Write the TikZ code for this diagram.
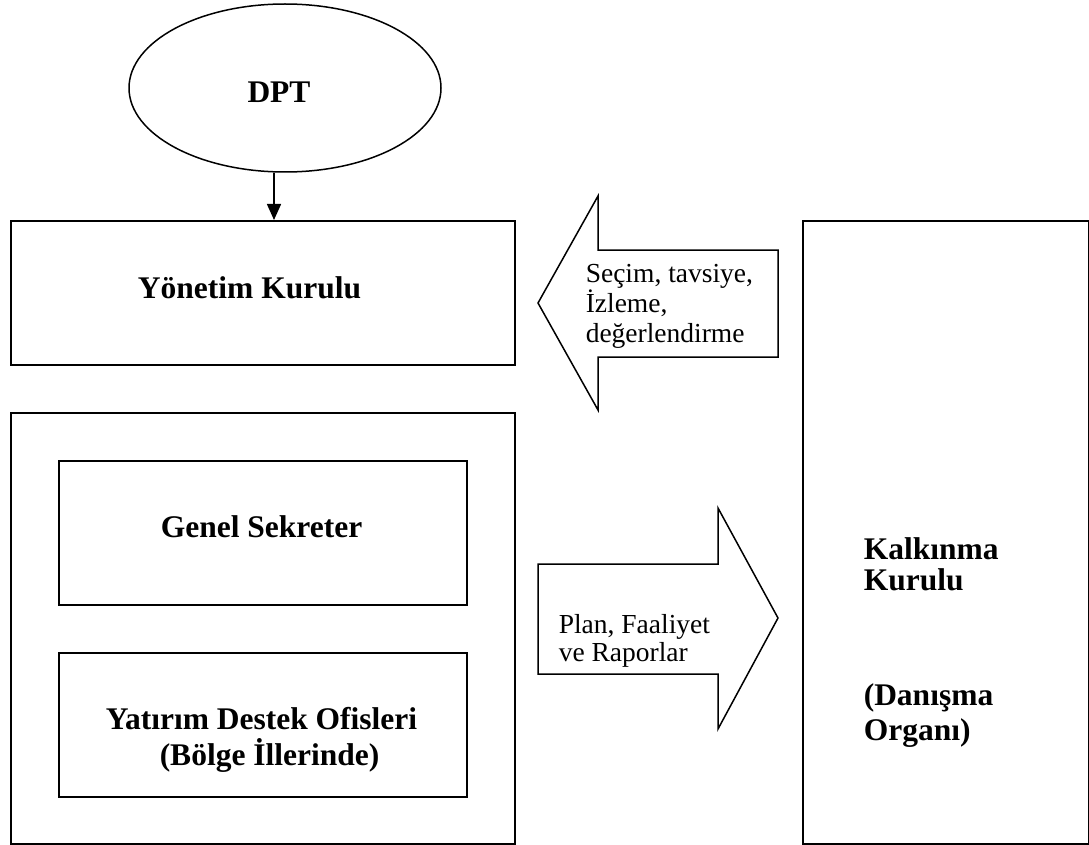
\documentclass[tikz,border=0pt]{standalone}
\usepackage{fontspec}
\setmainfont{Liberation Serif}
\usetikzlibrary{arrows.meta}
\begin{document}
\begin{tikzpicture}[x=1pt,y=-1pt,
  line width=1.5pt,
  box/.style={draw,rectangle,inner sep=0pt,anchor=north west},
  bold/.style={inner sep=0pt,font=\fontsize{31.5}{36}\selectfont\bfseries},
  reg/.style={inner sep=0pt,font=\fontsize{27.5}{30}\selectfont},
  conn/.style={-{Triangle[width=14pt,length=16pt]}},
  bigarrow/.style={draw,line join=miter}]
\useasboundingbox (0,0) rectangle (1089,845);
% DPT ellipse
\draw (285,88) ellipse [x radius=156, y radius=84];
\node[draw=none,inner sep=0pt,minimum width=312pt,minimum height=168pt] (dpt) at (285,88) {};
\node[bold,anchor=base] (dpttext) at (279,103) {DPT};
% boxes
\node[box,minimum width=504pt,minimum height=144pt] (yk) at (10,220) {};
\node[box,minimum width=504pt,minimum height=431pt] (outer) at (10,412) {};
\node[box,minimum width=408pt,minimum height=144pt] (gs) at (58,460) {};
\node[box,minimum width=408pt,minimum height=144pt] (yd) at (58,652) {};
\node[box,minimum width=286pt,minimum height=623pt] (kk) at (802,220) {};
% connector
\coordinate (ax) at (274,0);
\draw[conn] (dpt.south -| ax) -- (yk.north -| ax);
% block arrows
\draw[bigarrow] (538,303) -- (598,196) -- (598,250) -- (778,250) -- (778,357) -- (598,357) -- (598,410) -- cycle;
\draw[bigarrow] (538,564) -- (718,564) -- (718,508) -- (778,618) -- (718,729) -- (718,674) -- (538,674) -- cycle;
% texts
\node[bold,anchor=base] (yktext) at (249.5,298) {Yönetim Kurulu};
\node[bold,anchor=base] (gstext) at (261.5,537) {Genel Sekreter};
\node[bold,anchor=base west] (ydtext1) at (105,729) {Yatırım Destek Ofisleri};
\node[bold,anchor=base west] (ydtext2) at (159,765) {(Bölge İllerinde)};
\node[reg,anchor=base west] (la1) at (585,282) {Seçim, tavsiye,};
\node[reg,anchor=base west] (la2) at (585,312) {İzleme,};
\node[reg,anchor=base west] (la3) at (585,342) {değerlendirme};
\node[reg,anchor=base west] (ra1) at (558,633) {Plan, Faaliyet};
\node[reg,anchor=base west] (ra2) at (558,661) {ve Raporlar};
\node[bold,anchor=base west] (kk1) at (863,559) {Kalkınma};
\node[bold,anchor=base west] (kk2) at (863,590) {Kurulu};
\node[bold,anchor=base west] (kk3) at (863,705) {(Danışma};
\node[bold,anchor=base west] (kk4) at (863,740) {Organı)};
\end{tikzpicture}
\end{document}
